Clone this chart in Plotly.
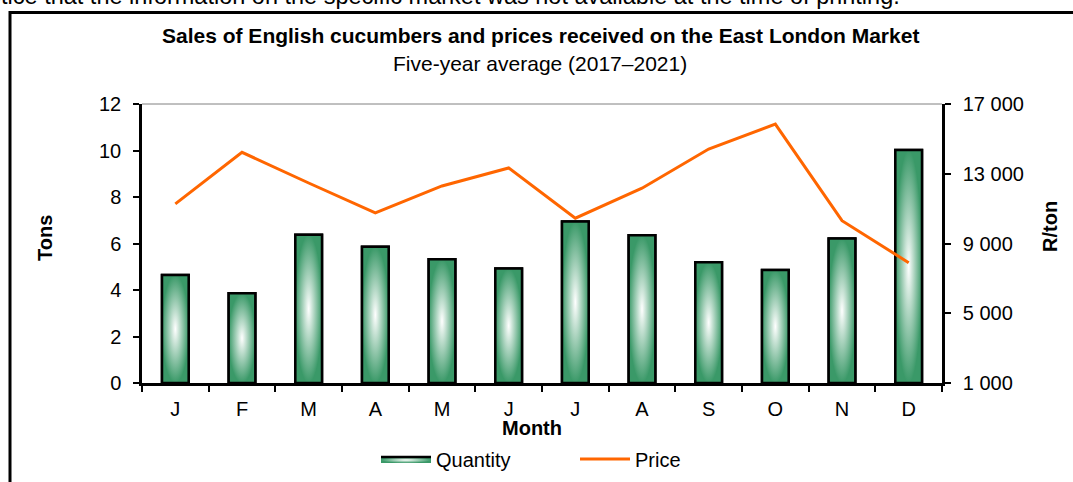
import plotly.graph_objects as go

# ---------------- data ----------------
MONTHS = ["Jan", "Feb", "Mar", "Apr", "May", "Jun", "Jul", "Aug", "Sep", "Oct", "Nov", "Dec"]
MONTH_LABELS = ["J", "F", "M", "A", "M", "J", "J", "A", "S", "O", "N", "D"]
QUANTITY_TONS = [4.65, 3.86, 6.38, 5.86, 5.32, 4.93, 6.95, 6.35, 5.19, 4.86, 6.21, 10.02]
PRICE_R_PER_TON = [11270, 14230, 12470, 10750, 12300, 13330, 10450, 12170, 14420, 15850, 10310, 7900]
LEFT_TICKS = [0, 2, 4, 6, 8, 10, 12]
RIGHT_TICKS = [1000, 5000, 9000, 13000, 17000]

TITLE = "Sales of English cucumbers and prices received on the East London Market"
SUBTITLE = "Five-year average (2017–2021)"
NOTE = "Notice that the information on the specific market was not available at the time of printing."

# ---------------- style / layout ----------------
W, H = 1073, 482
L, R, T, B = 142, 131, 104, 99
FONT = "Liberation Sans, Arial, sans-serif"
GREEN = "#3a9968"
ORANGE = "#ff6600"
BAR_HALF = 0.2


def px_x(px):
    return (px - L) / (W - L - R)


def px_y(py):
    return (H - B - py) / (H - T - B)


idx = list(range(len(MONTHS)))

fig = go.Figure()

# base bars (data carrier)
fig.add_trace(go.Bar(
    x=idx, y=QUANTITY_TONS, width=2 * BAR_HALF, name="Quantity",
    marker=dict(color=GREEN, line=dict(color="black", width=2.5)),
    showlegend=False, hoverinfo="skip", yaxis="y",
))

# gradient fills on each bar
for i, v in zip(idx, QUANTITY_TONS):
    fig.add_trace(go.Scatter(
        x=[i - BAR_HALF, i + BAR_HALF, i + BAR_HALF, i - BAR_HALF, i - BAR_HALF],
        y=[0, 0, v, v, 0],
        mode="lines", fill="toself",
        fillgradient=dict(type="radial", colorscale=[[0, "white"], [1, GREEN]]),
        line=dict(color="black", width=2.5),
        name="Quantity", legendgroup="q", showlegend=(i == 0),
        hoverinfo="skip", yaxis="y",
    ))

fig.add_trace(go.Scatter(
    x=idx, y=PRICE_R_PER_TON, mode="lines", name="Price",
    line=dict(color=ORANGE, width=3), yaxis="y2",
))

axis_common = dict(showgrid=False, zeroline=False, showline=True, linecolor="black",
                   linewidth=2.5, ticks="outside", ticklen=6, tickwidth=2,
                   tickcolor="black", tickfont=dict(size=20, color="black", family=FONT))

fig.update_layout(
    width=W, height=H,
    margin=dict(l=L, r=R, t=T, b=B, autoexpand=False),
    paper_bgcolor="white", plot_bgcolor="white",
    font=dict(family=FONT, color="black", size=20),
    separators=". ",
    xaxis=dict(range=[-0.5, 11.5], tickmode="array",
               tickvals=[i - 0.5 for i in range(len(MONTHS) + 1)],
               showticklabels=False, **axis_common),
    xaxis2=dict(range=[-0.5, 11.5], overlaying="x", side="bottom", anchor="y",
                tickmode="array", tickvals=idx, ticktext=MONTH_LABELS,
                showgrid=False, zeroline=False, showline=False, ticks="",
                ticklabelstandoff=12,
                tickfont=dict(size=20, color="black", family=FONT)),
    yaxis=dict(range=[0, 12], tickmode="array", tickvals=LEFT_TICKS,
               ticklabelstandoff=8, **axis_common),
    yaxis2=dict(range=[1000, 17000], overlaying="y", side="right", anchor="x",
                tickmode="array", tickvals=RIGHT_TICKS, tickformat=",",
                ticklabelstandoff=8, **axis_common),
    legend=dict(orientation="h", x=px_x(376), y=px_y(459), xanchor="left", yanchor="middle",
                font=dict(size=20, family=FONT), entrywidth=134, entrywidthmode="pixels",
                itemwidth=50,
                bgcolor="rgba(0,0,0,0)", traceorder="normal"),
    showlegend=True,
)

# dummy trace so xaxis2 is rendered
fig.add_trace(go.Scatter(x=[None], y=[None], xaxis="x2", yaxis="y", showlegend=False, hoverinfo="skip"))

annotations = [
    dict(text="<b>" + TITLE + "</b>", x=px_x(540), y=px_y(35), font=dict(size=21)),
    dict(text=SUBTITLE, x=px_x(540), y=px_y(64), font=dict(size=21)),
    dict(text="<b>Tons</b>", x=px_x(45), y=px_y(238), textangle=-90, font=dict(size=20)),
    dict(text="<b>R/ton</b>", x=px_x(1050), y=px_y(227), textangle=-90, font=dict(size=20)),
    dict(text="<b>Month</b>", x=px_x(532), y=px_y(428), font=dict(size=20)),
    dict(text=NOTE, x=px_x(902), y=px_y(-4), xanchor="right", font=dict(size=23.5)),
]
for a in annotations:
    a.setdefault("xanchor", "center")
    a.update(xref="paper", yref="paper", showarrow=False, yanchor="middle")
fig.update_layout(annotations=annotations)

fig.update_layout(shapes=[
    dict(type="line", xref="paper", yref="paper", x0=0, x1=1, y0=1, y1=1,
         line=dict(color="#808080", width=1)),
    dict(type="rect", xref="paper", yref="paper", x0=px_x(10), x1=px_x(1090),
         y0=px_y(500), y1=px_y(12.5), line=dict(color="black", width=3),
         fillcolor="rgba(0,0,0,0)", layer="below"),
])

fig.write_html(
    "out.html",
    config={"displayModeBar": False},
    post_script="document.body.style.margin='0';document.body.style.overflow='hidden';",
)
